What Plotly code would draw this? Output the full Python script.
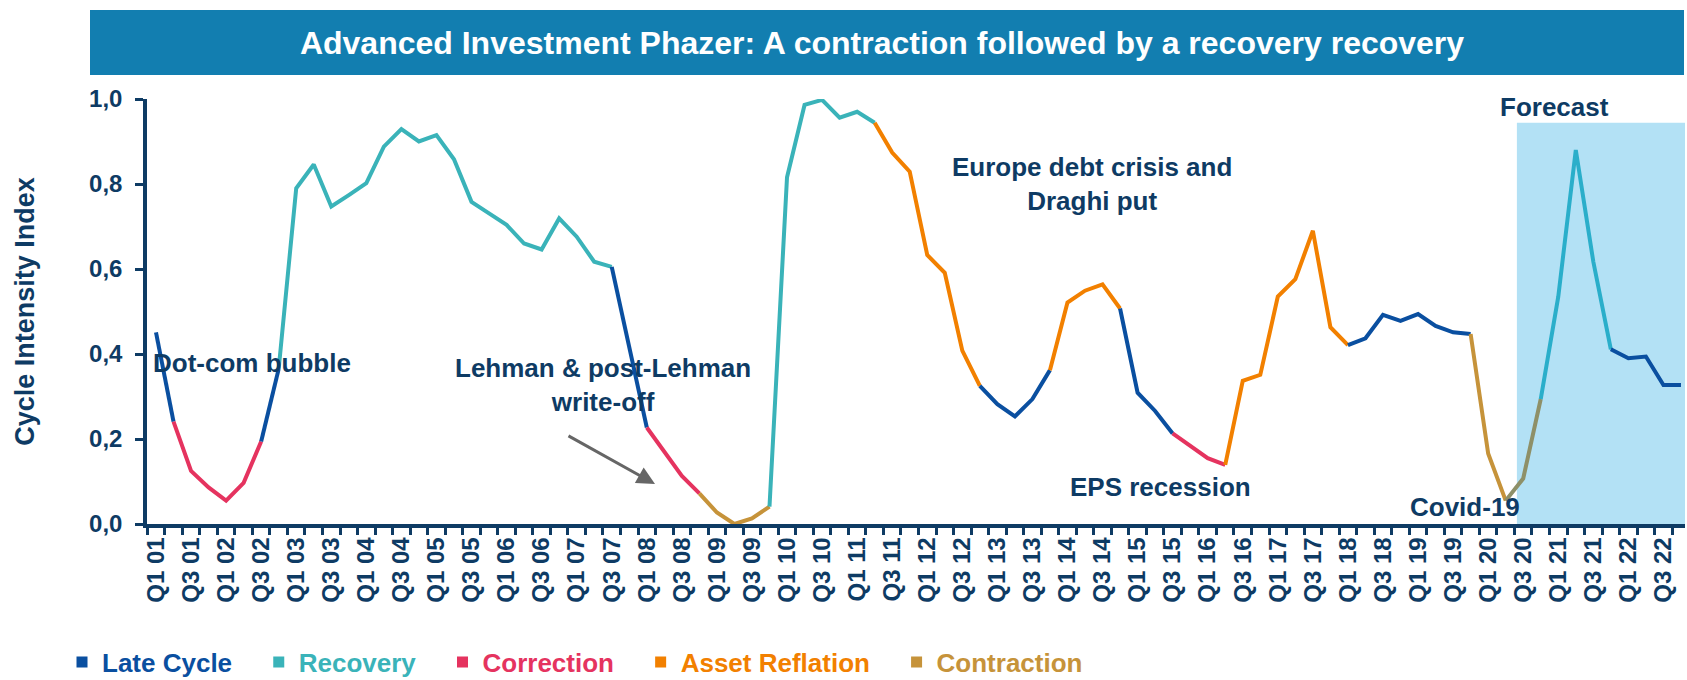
import plotly.graph_objects as go

# ---------------- data ----------------
years = [f"{y:02d}" for y in range(1, 23)]
quarters = [f"Q{q} {y}" for y in years for q in (1, 2, 3, 4)]

cycle_index = [
    0.451, 0.241, 0.125, 0.086, 0.055, 0.097, 0.194, 0.365,   # 2001-02
    0.790, 0.846, 0.747, 0.774, 0.802, 0.888, 0.929, 0.900,   # 2003-04
    0.915, 0.858, 0.758, 0.731, 0.704, 0.660, 0.646, 0.719,   # 2005-06
    0.676, 0.617, 0.605, 0.415, 0.227, 0.169, 0.113, 0.072,   # 2007-08
    0.027, 0.000, 0.013, 0.041, 0.816, 0.986, 0.998, 0.956,   # 2009-10
    0.970, 0.944, 0.874, 0.829, 0.633, 0.591, 0.408, 0.325,   # 2011-12
    0.282, 0.253, 0.294, 0.362, 0.521, 0.549, 0.564, 0.507,   # 2013-14
    0.309, 0.266, 0.213, 0.184, 0.155, 0.139, 0.337, 0.351,   # 2015-16
    0.535, 0.576, 0.690, 0.463, 0.421, 0.437, 0.492, 0.478,   # 2017-18
    0.494, 0.466, 0.451, 0.447, 0.166, 0.055, 0.107, 0.294,   # 2019-20
    0.535, 0.880, 0.617, 0.411, 0.390, 0.394, 0.327, 0.327,   # 2021-22
]

# phase of each line segment, as (phase, number of consecutive segments)
phase_runs = [
    ("Late Cycle", 1), ("Correction", 5), ("Late Cycle", 1), ("Recovery", 19),
    ("Late Cycle", 2), ("Correction", 3), ("Contraction", 4), ("Recovery", 6),
    ("Asset Reflation", 6), ("Late Cycle", 4), ("Asset Reflation", 4),
    ("Late Cycle", 3), ("Correction", 3), ("Asset Reflation", 7),
    ("Late Cycle", 7), ("Contraction", 4), ("Recovery", 4), ("Late Cycle", 4),
]

phases = ["Late Cycle", "Recovery", "Correction", "Asset Reflation", "Contraction"]

annotation_texts = [
    "Dot-com bubble",
    "Lehman & post-Lehman<br>write-off",
    "Europe debt crisis and<br>Draghi put",
    "EPS recession",
    "Covid-19",
    "Forecast",
]

title_text = "Advanced Investment Phazer: A contraction followed by a recovery recovery"
y_title = "Cycle Intensity Index"
forecast_start = "Q2 20"

# ---------------- style ----------------
NAVY = "#0E3B64"
BANNER = "#127EB0"
FORECAST_FILL = "#B3E1F5"
phase_colors = {
    "Late Cycle": "#0A4FA0",
    "Recovery": "#3AB3B9",
    "Correction": "#E5335F",
    "Asset Reflation": "#F28000",
    "Contraction": "#C6933A",
}
forecast_colors = {
    "Recovery": "#2AAECA",
    "Contraction": "#8E9068",
}
FONT = "Liberation Sans, Arial, sans-serif"

W, H = 1687, 680
ML, MR, MT, MB = 147, 2, 99, 156
XR = [-0.513, 87.23]


def paper_x(px):
    return (px - ML) / (W - ML - MR)


def paper_y(py):
    return (H - MB - py) / (H - MB - MT)


x_idx = list(range(len(quarters)))

seg_phase = []
for name, n in phase_runs:
    seg_phase += [name] * n

fc_i = quarters.index(forecast_start)
runs = []
i = 0
while i < len(seg_phase):
    key = (seg_phase[i], i >= fc_i)
    j = i
    while j + 1 < len(seg_phase) and (seg_phase[j + 1], j + 1 >= fc_i) == key:
        j += 1
    runs.append((key, i, j + 1))
    i = j + 1

fig = go.Figure()

for (ph, fc), a, b in runs:
    color = forecast_colors.get(ph, phase_colors[ph]) if fc else phase_colors[ph]
    fig.add_trace(go.Scatter(
        x=x_idx[a:b + 1], y=cycle_index[a:b + 1], mode="lines",
        line=dict(color=color, width=4), name=ph, legendgroup=ph,
        showlegend=False, cliponaxis=False,
        customdata=quarters[a:b + 1],
        hovertemplate="%{customdata}: %{y:.2f}<extra>" + ph + "</extra>",
    ))

NB = "\u00a0"
for ph in phases:
    c = phase_colors[ph]
    fig.add_trace(go.Scatter(
        x=[None], y=[None], mode="markers",
        marker=dict(symbol="square", size=11, color=c),
        name=f"<span style='color:{c}'>{ph}</span>" + NB * 3,
        legendgroup=ph, showlegend=True,
    ))

label_idx = [k for k, q in enumerate(quarters) if q.startswith("Q1") or q.startswith("Q3")]
label_txt = [quarters[k] for k in label_idx]

fig.update_layout(
    width=W, height=H,
    margin=dict(l=ML, r=MR, t=MT, b=MB, autoexpand=False),
    plot_bgcolor="white", paper_bgcolor="white",
    separators=",.",
    font=dict(family=FONT, color=NAVY, size=24, weight="bold"),
    title=dict(text=title_text, x=882 / W, xanchor="center", y=1 - 43 / H,
               yanchor="middle", xref="container", yref="container",
               font=dict(family=FONT, size=32, color="white", weight="bold")),
    showlegend=True,
    legend=dict(orientation="h", x=paper_x(62), xanchor="left",
                y=paper_y(662), yanchor="middle",
                font=dict(family=FONT, size=26, weight="bold"),
                bgcolor="rgba(0,0,0,0)", borderwidth=0),
    xaxis=dict(range=XR, showgrid=False, zeroline=False, showline=True,
               linecolor=NAVY, linewidth=3.5,
               tickmode="array", tickvals=label_idx, ticktext=label_txt,
               ticks="", tickangle=-90,
               tickfont=dict(family=FONT, size=24, color=NAVY, weight="bold"),
               minor=dict(tickmode="linear", tick0=-0.5, dtick=1, ticks="outside",
                          ticklen=7, tickwidth=3, tickcolor=NAVY, showgrid=False)),
    yaxis=dict(range=[0, 1], tickmode="linear", tick0=0, dtick=0.2, tickformat=".1f",
               ticks="outside", ticklen=8, tickwidth=3, tickcolor=NAVY,
               showline=True, linewidth=3.5, linecolor=NAVY,
               showgrid=False, zeroline=False, ticklabelstandoff=8,
               tickfont=dict(family=FONT, size=24, color=NAVY, weight="bold"),
               title=dict(text=y_title, standoff=48,
                          font=dict(family=FONT, size=27, color=NAVY, weight="bold"))),
)

# banner behind the title
fig.add_shape(type="rect", xref="paper", yref="paper",
              x0=paper_x(90), x1=paper_x(1684), y0=paper_y(75), y1=paper_y(10),
              fillcolor=BANNER, line=dict(width=0), layer="below")

# forecast shading
fig.add_shape(type="rect", xref="x", yref="y",
              x0=fc_i + 0.64, x1=XR[1], y0=0, y1=0.944,
              fillcolor=FORECAST_FILL, line=dict(width=0), layer="below")

# text annotations (pixel centres)
ann_pos = [(252, 363), (603, 385), (1092, 184), (1160, 487), (1465, 507), (1554, 107)]
for txt, (px, py) in zip(annotation_texts, ann_pos):
    fig.add_annotation(text=txt, xref="paper", yref="paper",
                       x=paper_x(px), y=paper_y(py), xanchor="center", yanchor="middle",
                       showarrow=False, align="center",
                       font=dict(family=FONT, size=26, color=NAVY, weight="bold"))

# arrow pointing at Lehman write-off
fig.add_annotation(text="", xref="paper", yref="paper",
                   x=paper_x(655), y=paper_y(484), ax=-88, ay=-49,
                   showarrow=True, arrowhead=2, arrowsize=1.2, arrowwidth=3,
                   arrowcolor="#666666")

fig.write_html("out.html", config={"displayModeBar": False},
               post_script="document.body.style.margin='0';document.body.style.overflow='hidden';")
